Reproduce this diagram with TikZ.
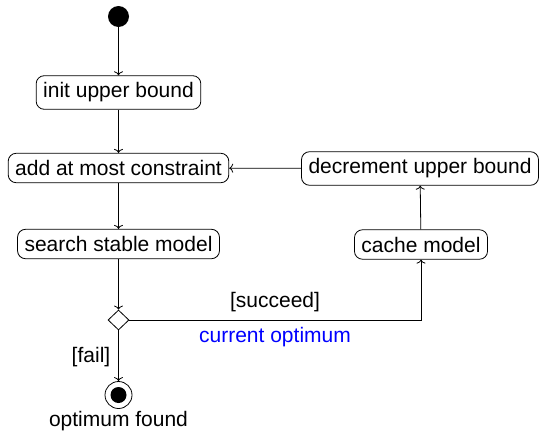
\documentclass[tikz,border=0pt]{standalone}
\usepackage{fontspec}
\setmainfont{Liberation Sans}
\usetikzlibrary{shapes.geometric,arrows.meta}
\begin{document}
\begin{tikzpicture}[x=1pt,y=-1pt, font=\fontsize{21}{24}\selectfont,
 act/.style={draw, rounded corners=8pt, inner xsep=7pt, inner ysep=7pt, line width=0.8pt},
 flow/.style={-{To[length=4pt,width=9pt]}, line width=0.8pt}]
\useasboundingbox (0,0) rectangle (540,431);
\node[circle, fill, inner sep=0, minimum size=21pt] (start) at (118.5,16.5) {};
\node[act] (init) at (118.5,92.5) {init upper bound};
\node[act] (add) at (118.5,168) {add at most constraint};
\node[act] (search) at (118.5,244) {search stable model};
\node[act] (decr) at (420,168.5) {decrement upper bound};
\node[act] (cache) at (421,244.5) {cache model};
\node[diamond, draw, line width=0.8pt, inner sep=0, minimum width=21pt, minimum height=20pt] (dec) at (118.5,320) {};
\node[circle, draw, line width=0.8pt, inner sep=0, minimum size=27pt] (end) at (118.5,395) {};
\node[circle, fill, inner sep=0, minimum size=16pt] (endin) at (end) {};
\node (found) at (118.5,421) {optimum found};
\node (succ) at (275,302) {[succeed]};
\node[text={rgb,255:red,0;green,0;blue,255}] (cur) at (275,337) {current optimum};
\node (fail) at (91,357) {[fail]};
\draw[flow] (start) -- (init);
\draw[flow] (init) -- (add);
\draw[flow] (add) -- (search);
\draw[flow] (search) -- (dec);
\draw[flow] (dec) -- (end);
\draw[flow] (dec.east) -| (cache);
\draw[flow] (cache) -- (decr);
\draw[flow] (decr) -- (add);
\end{tikzpicture}
\end{document}
